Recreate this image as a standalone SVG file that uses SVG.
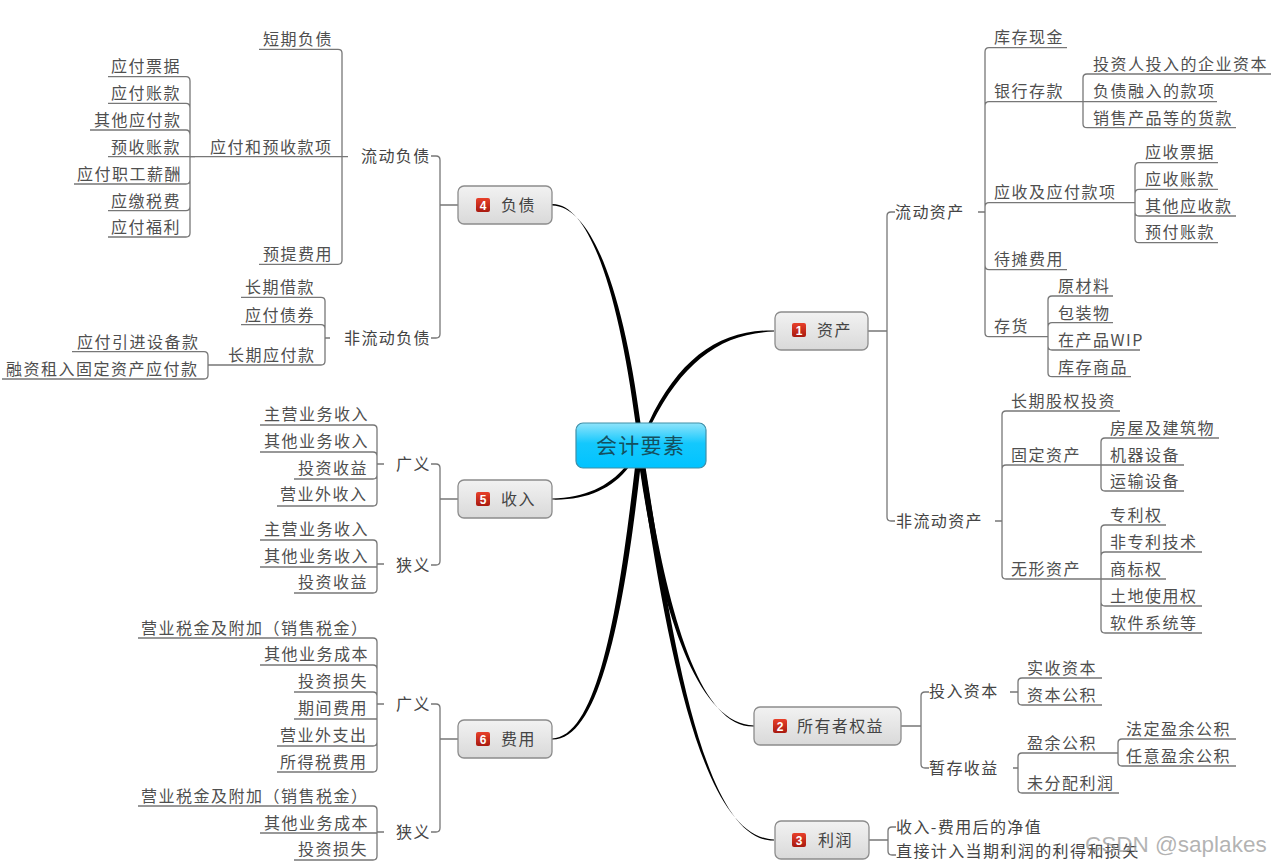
<svg xmlns="http://www.w3.org/2000/svg" width="1274" height="866" viewBox="0 0 1274 866">
<style>
text{font-family:"Noto Sans CJK SC","Liberation Sans",sans-serif}
.t{font-size:16px;letter-spacing:1.5px;fill:#4f4f4f}
.h{font-size:16px;letter-spacing:1.4px;fill:#444}
.b{fill:url(#g);stroke:#8c8c8c;stroke-width:1.3}
.n{font-size:12px;font-weight:bold;fill:#fff;text-anchor:middle;font-family:"Liberation Sans",sans-serif;letter-spacing:0}
.l{fill:none;stroke:#777;stroke-width:1.3}
.c{fill:#000}
</style>
<defs>
<linearGradient id="g" x1="0" y1="0" x2="0" y2="1"><stop offset="0" stop-color="#f2f2f2"/><stop offset="1" stop-color="#d9d9d9"/></linearGradient>
<linearGradient id="r" x1="0" y1="0" x2="0" y2="1"><stop offset="0" stop-color="#e8402a"/><stop offset="1" stop-color="#a81a10"/></linearGradient>
<linearGradient id="cy" x1="0" y1="0" x2="0" y2="1"><stop offset="0" stop-color="#8fe4fb"/><stop offset=".45" stop-color="#14c8fd"/><stop offset="1" stop-color="#00c3ff"/></linearGradient>
</defs>
<rect width="1274" height="866" fill="#fff"/>
<g id="connectors">
<g id="trunks">
<path class="c" d="M552 204C591 203 619.500 300 635.500 423L640.500 423C624.500 300 594 206 552 205.500Z"/>
<path class="c" d="M774 330.400C720 329.500 679 358 648.500 423L652 423C683 362 721 333 774 331.600Z"/>
<path class="c" d="M552 498.500C585 498 609 486 625 467L629 467C612 489 586 500.500 552 499.600Z"/>
<path class="c" d="M552 738.400C599 737.500 619.500 600 635 467L640.500 467C625.500 600 602 740.800 552 739.600Z"/>
<path class="c" d="M754 725.400C694 724 659 600 639.500 467L645 467C665 600 697 728 754 726.600Z"/>
<path class="c" d="M774 839.400C699 838 665 630 640 467L645.500 467C671 630 702 842 774 840.600Z"/>
</g>
<g id="branches">
<!-- 资产 -->
<path class="l" d="M868 331H887M895 212H891Q887 212 887 216V517Q887 521 891 521H895M978 212H985"/>
<path class="l" d="M1067 47.700H989Q985 47.700 985 52V332.700Q985 336.700 989 336.700H1048M1083 101.700H989Q985 101.700 985 106M1135 202.700H989Q985 202.700 985 207M1067 269.700H989Q985 269.700 985 265"/>
<path class="l" d="M1271 74H1087Q1083 74 1083 78V123.700Q1083 127.700 1087 127.700H1236M1217 101.700H1083"/>
<path class="l" d="M1218 162.700H1139Q1135 162.700 1135 167V238.700Q1135 242.700 1139 242.700H1218M1218 189.300H1139Q1135 189.300 1135 194M1236 216H1139Q1135 216 1135 212"/>
<path class="l" d="M1113 296H1052Q1048 296 1048 300V372.700Q1048 376.700 1052 376.700H1131M1113 322.700H1052Q1048 322.700 1048 327M1140 350H1052Q1048 350 1048 346"/>
<path class="l" d="M995 521H1002M1120 411H1006Q1002 411 1002 415V575Q1002 579 1006 579H1101M1101 465H1006Q1002 465 1002 469"/>
<path class="l" d="M1219 438H1105Q1101 438 1101 442V487Q1101 491 1105 491H1184M1184 465H1101"/>
<path class="l" d="M1166 525H1105Q1101 525 1101 529V629Q1101 633 1105 633H1202M1202 552H1105Q1101 552 1101 556M1166 579H1101M1202 606H1105Q1101 606 1101 602"/>
<!-- 所有者权益 -->
<path class="l" d="M901 726H921M929 692H925Q921 692 921 696V764Q921 768 925 768H929M1010 692H1018M1013 768H1018"/>
<path class="l" d="M1102 678H1022Q1018 678 1018 682V701Q1018 705 1022 705H1102"/>
<path class="l" d="M1118 753H1022Q1018 753 1018 757V789Q1018 793 1022 793H1119"/>
<path class="l" d="M1236 739H1122Q1118 739 1118 743V762Q1118 766 1122 766H1236"/>
<!-- 利润 -->
<path class="l" d="M869 840H888M896 827H892Q888 827 888 831V851Q888 855 892 855H896"/>
<!-- 负债 -->
<path class="l" d="M458 205H440M431 156H436Q440 156 440 160V334Q440 338 436 338H431M325 338H330"/>
<path class="l" d="M259 49.300H338Q342 49.300 342 53V260.300Q342 264.300 338 264.300H259M190 156.700H348"/>
<path class="l" d="M108 76.700H186Q190 76.700 190 81V233Q190 237 186 237H108M108 103.300H186Q190 103.300 190 108M90 130H186Q190 130 190 135M108 156.700H195M74 184H186Q190 184 190 180M108 210.700H186Q190 210.700 190 206"/>
<path class="l" d="M241 297.300H321Q325 297.300 325 301V361Q325 365 321 365H208M241 324.700H321Q325 324.700 325 329"/>
<path class="l" d="M72 351.700H204Q208 351.700 208 356V375Q208 379 204 379H2"/>
<!-- 收入 -->
<path class="l" d="M458 499H440M431 464H436Q440 464 440 468V561Q440 565 436 565H431M377 464H384M377 564H384"/>
<path class="l" d="M260 425H373Q377 425 377 429V502Q377 506 373 506H277M260 452H373Q377 452 377 456M294 479H373Q377 479 377 475"/>
<path class="l" d="M260 540H373Q377 540 377 544V589Q377 593 373 593H294M260 567H377"/>
<!-- 费用 -->
<path class="l" d="M458 739H440M431 704H436Q440 704 440 708V828Q440 832 436 832H431M377 704H384M377 832H384"/>
<path class="l" d="M138 638H373Q377 638 377 642V768Q377 772 373 772H277M260 665H373Q377 665 377 669M294 692H373Q377 692 377 696M294 719H377M277 746H373Q377 746 377 742"/>
<path class="l" d="M138 806H373Q377 806 377 810V856Q377 860 373 860H294M260 833H377"/>
</g>
</g>
<g id="root"><rect x="576" y="423" width="130" height="45" rx="7" fill="url(#cy)" stroke="#3f8fa8" stroke-width="1.2"/><text x="596" y="453" font-size="21" letter-spacing="1.300" fill="#14505f">会计要素</text></g>
<g id="n1"><rect class="b" x="775" y="312" width="93" height="38" rx="6"/><rect x="792" y="323" width="14" height="14" rx="2" fill="url(#r)"/><text class="n" x="799" y="334.500">1</text><text class="h" x="817" y="336">资产</text></g>
<g id="n2"><rect class="b" x="754" y="707" width="147" height="38" rx="6"/><rect x="773" y="719" width="14" height="14" rx="2" fill="url(#r)"/><text class="n" x="780" y="730.500">2</text><text class="h" x="797" y="732">所有者权益</text></g>
<g id="n3"><rect class="b" x="775" y="821" width="94" height="38" rx="6"/><rect x="792" y="833" width="14" height="14" rx="2" fill="url(#r)"/><text class="n" x="799" y="844.500">3</text><text class="h" x="818" y="846">利润</text></g>
<g id="n4"><rect class="b" x="458" y="186" width="94" height="38" rx="6"/><rect x="476" y="198" width="14" height="14" rx="2" fill="url(#r)"/><text class="n" x="483" y="209.500">4</text><text class="h" x="501" y="211">负债</text></g>
<g id="n5"><rect class="b" x="458" y="480" width="94" height="38" rx="6"/><rect x="476" y="492" width="14" height="14" rx="2" fill="url(#r)"/><text class="n" x="483" y="503.500">5</text><text class="h" x="501" y="505">收入</text></g>
<g id="n6"><rect class="b" x="458" y="720" width="94" height="38" rx="6"/><rect x="476" y="732" width="14" height="14" rx="2" fill="url(#r)"/><text class="n" x="483" y="743.500">6</text><text class="h" x="501" y="745">费用</text></g>
<g id="assets" class="t">
<g id="a1"><text class="h" x="895" y="218">流动资产</text></g>
<g id="a2"><text class="h" x="896" y="527">非流动资产</text></g>
<g id="a3"><text x="994" y="43">库存现金</text></g>
<g id="a4"><text x="994" y="97">银行存款</text></g>
<g id="a5"><text x="1093" y="70">投资人投入的企业资本</text></g>
<g id="a6"><text x="1093" y="97">负债融入的款项</text></g>
<g id="a7"><text x="1093" y="124">销售产品等的货款</text></g>
<g id="a8"><text x="994" y="198">应收及应付款项</text></g>
<g id="a9"><text x="1145" y="158">应收票据</text></g>
<g id="a10"><text x="1145" y="185">应收账款</text></g>
<g id="a11"><text x="1145" y="212">其他应收款</text></g>
<g id="a12"><text x="1145" y="238">预付账款</text></g>
<g id="a13"><text x="994" y="265">待摊费用</text></g>
<g id="a14"><text x="994" y="332">存货</text></g>
<g id="a15"><text x="1058" y="292">原材料</text></g>
<g id="a16"><text x="1058" y="319">包装物</text></g>
<g id="a17"><text x="1058" y="346">在产品WIP</text></g>
<g id="a18"><text x="1058" y="373">库存商品</text></g>
<g id="a19"><text x="1011" y="407">长期股权投资</text></g>
<g id="a20"><text x="1011" y="461">固定资产</text></g>
<g id="a21"><text x="1110" y="434">房屋及建筑物</text></g>
<g id="a22"><text x="1110" y="461">机器设备</text></g>
<g id="a23"><text x="1110" y="487">运输设备</text></g>
<g id="a24"><text x="1011" y="575">无形资产</text></g>
<g id="a25"><text x="1110" y="521">专利权</text></g>
<g id="a26"><text x="1110" y="548">非专利技术</text></g>
<g id="a27"><text x="1110" y="575">商标权</text></g>
<g id="a28"><text x="1110" y="602">土地使用权</text></g>
<g id="a29"><text x="1110" y="629">软件系统等</text></g>
</g>
<g id="equity" class="t">
<g id="e1"><text class="h" x="929" y="697">投入资本</text></g>
<g id="e2"><text class="h" x="929" y="774">暂存收益</text></g>
<g id="e3"><text x="1027" y="674">实收资本</text></g>
<g id="e4"><text x="1027" y="701">资本公积</text></g>
<g id="e5"><text x="1027" y="749">盈余公积</text></g>
<g id="e6"><text x="1027" y="789">未分配利润</text></g>
<g id="e7"><text x="1126" y="735">法定盈余公积</text></g>
<g id="e8"><text x="1126" y="762">任意盈余公积</text></g>
</g>
<g id="profit" class="t">
<g id="p1"><text class="h" x="896" y="833">收入-费用后的净值</text></g>
<g id="p2"><text class="h" x="896" y="857">直接计入当期利润的利得和损失</text></g>
</g>
<g id="liab" class="t">
<g id="l1"><text class="h" x="361" y="162">流动负债</text></g>
<g id="l2"><text class="h" x="344" y="344">非流动负债</text></g>
<g id="l3"><text x="263" y="45">短期负债</text></g>
<g id="l4"><text x="210" y="153">应付和预收款项</text></g>
<g id="l5"><text x="263" y="260">预提费用</text></g>
<g id="l6"><text x="111" y="72">应付票据</text></g>
<g id="l7"><text x="111" y="99">应付账款</text></g>
<g id="l8"><text x="94" y="126">其他应付款</text></g>
<g id="l9"><text x="111" y="153">预收账款</text></g>
<g id="l10"><text x="77" y="180">应付职工薪酬</text></g>
<g id="l11"><text x="111" y="207">应缴税费</text></g>
<g id="l12"><text x="111" y="233">应付福利</text></g>
<g id="l13"><text x="245" y="293">长期借款</text></g>
<g id="l14"><text x="245" y="321">应付债券</text></g>
<g id="l15"><text x="228" y="361">长期应付款</text></g>
<g id="l16"><text x="77" y="348">应付引进设备款</text></g>
<g id="l17"><text x="6" y="375">融资租入固定资产应付款</text></g>
</g>
<g id="income" class="t">
<g id="i1"><text class="h" x="396" y="470">广义</text></g>
<g id="i2"><text class="h" x="396" y="571">狭义</text></g>
<g id="i3"><text x="264" y="420">主营业务收入</text></g>
<g id="i4"><text x="264" y="447">其他业务收入</text></g>
<g id="i5"><text x="298" y="474">投资收益</text></g>
<g id="i6"><text x="280" y="500">营业外收入</text></g>
<g id="i7"><text x="264" y="535">主营业务收入</text></g>
<g id="i8"><text x="264" y="562">其他业务收入</text></g>
<g id="i9"><text x="298" y="588">投资收益</text></g>
</g>
<g id="expense" class="t">
<g id="x1"><text class="h" x="396" y="710">广义</text></g>
<g id="x2"><text class="h" x="396" y="838">狭义</text></g>
<g id="x3"><text x="141" y="634">营业税金及附加（销售税金）</text></g>
<g id="x4"><text x="264" y="660">其他业务成本</text></g>
<g id="x5"><text x="298" y="687">投资损失</text></g>
<g id="x6"><text x="298" y="714">期间费用</text></g>
<g id="x7"><text x="280" y="741">营业外支出</text></g>
<g id="x8"><text x="280" y="768">所得税费用</text></g>
<g id="x9"><text x="141" y="802">营业税金及附加（销售税金）</text></g>
<g id="x10"><text x="264" y="829">其他业务成本</text></g>
<g id="x11"><text x="298" y="855">投资损失</text></g>
</g>
<text x="1085" y="852" font-size="22.500" fill="#9a9a9a" fill-opacity=".75" style="font-family:'Liberation Sans',sans-serif">CSDN @saplakes</text>
</svg>
